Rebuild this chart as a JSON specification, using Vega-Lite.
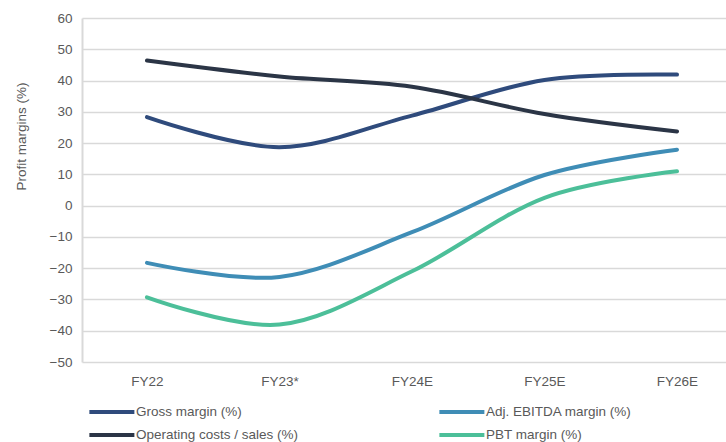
{
  "$schema": "https://vega.github.io/schema/vega-lite/v6.json",
  "autosize": {"type": "none"},
  "padding": {"left": 82, "top": 18, "right": 0, "bottom": 80},
  "width": 644,
  "height": 344,
  "background": "white",
  "config": {
    "font": "Liberation Sans",
    "view": {"stroke": null}
  },
  "data": {
    "values": [
      {"year": "FY22", "series": "Gross margin (%)", "value": 28.3},
      {"year": "FY23*", "series": "Gross margin (%)", "value": 18.7},
      {"year": "FY24E", "series": "Gross margin (%)", "value": 28.8},
      {"year": "FY25E", "series": "Gross margin (%)", "value": 40.2},
      {"year": "FY26E", "series": "Gross margin (%)", "value": 41.9},
      {"year": "FY22", "series": "Operating costs / sales (%)", "value": 46.4},
      {"year": "FY23*", "series": "Operating costs / sales (%)", "value": 41.3},
      {"year": "FY24E", "series": "Operating costs / sales (%)", "value": 38.0},
      {"year": "FY25E", "series": "Operating costs / sales (%)", "value": 29.3},
      {"year": "FY26E", "series": "Operating costs / sales (%)", "value": 23.7},
      {"year": "FY22", "series": "Adj. EBITDA margin (%)", "value": -18.3},
      {"year": "FY23*", "series": "Adj. EBITDA margin (%)", "value": -22.8},
      {"year": "FY24E", "series": "Adj. EBITDA margin (%)", "value": -8.5},
      {"year": "FY25E", "series": "Adj. EBITDA margin (%)", "value": 9.8},
      {"year": "FY26E", "series": "Adj. EBITDA margin (%)", "value": 17.9},
      {"year": "FY22", "series": "PBT margin (%)", "value": -29.3},
      {"year": "FY23*", "series": "PBT margin (%)", "value": -38.0},
      {"year": "FY24E", "series": "PBT margin (%)", "value": -21.0},
      {"year": "FY25E", "series": "PBT margin (%)", "value": 2.5},
      {"year": "FY26E", "series": "PBT margin (%)", "value": 11.0}
    ]
  },
  "mark": {"type": "line", "interpolate": "cardinal", "strokeWidth": 4, "strokeCap": "round"},
  "encoding": {
    "x": {
      "field": "year",
      "type": "ordinal",
      "sort": ["FY22", "FY23*", "FY24E", "FY25E", "FY26E"],
      "scale": {"type": "point", "padding": 0.43, "align": 0.57},
      "axis": {
        "title": null,
        "domain": false,
        "ticks": false,
        "grid": false,
        "labelAngle": 0,
        "labelFontSize": 13.5,
        "labelColor": "#595959",
        "labelPadding": 12
      }
    },
    "y": {
      "field": "value",
      "type": "quantitative",
      "scale": {"domain": [-50, 60], "nice": false, "zero": false},
      "axis": {
        "values": [-50, -40, -30, -20, -10, 0, 10, 20, 30, 40, 50, 60],
        "title": "Profit margins (%)",
        "titleFontSize": 13.5,
        "titleFontWeight": "normal",
        "titleColor": "#595959",
        "titleX": -61,
        "titleY": 118,
        "titleAngle": 270,
        "titleAlign": "center",
        "titleBaseline": "middle",
        "labelFontSize": 13.5,
        "labelColor": "#595959",
        "labelPadding": 10,
        "ticks": false,
        "domain": true,
        "domainColor": "#D9D9D9",
        "domainWidth": 2,
        "gridColor": "#D9D9D9",
        "gridWidth": 1.5
      }
    },
    "color": {
      "field": "series",
      "type": "nominal",
      "scale": {
        "domain": ["Gross margin (%)", "Operating costs / sales (%)", "Adj. EBITDA margin (%)", "PBT margin (%)"],
        "range": ["#2F4B7C", "#2B3546", "#3F8DB6", "#4CBF99"]
      },
      "legend": {
        "title": null,
        "orient": "none",
        "legendX": 5,
        "legendY": 386,
        "columns": 2,
        "columnPadding": 132,
        "rowPadding": 7,
        "symbolType": "M-1,0H7",
        "symbolSize": 126.6,
        "symbolStrokeWidth": 4,
        "symbolFillColor": "transparent",
        "labelOffset": 33,
        "labelFontSize": 13.5,
        "labelColor": "#595959",
        "labelLimit": 300
      }
    }
  }
}
